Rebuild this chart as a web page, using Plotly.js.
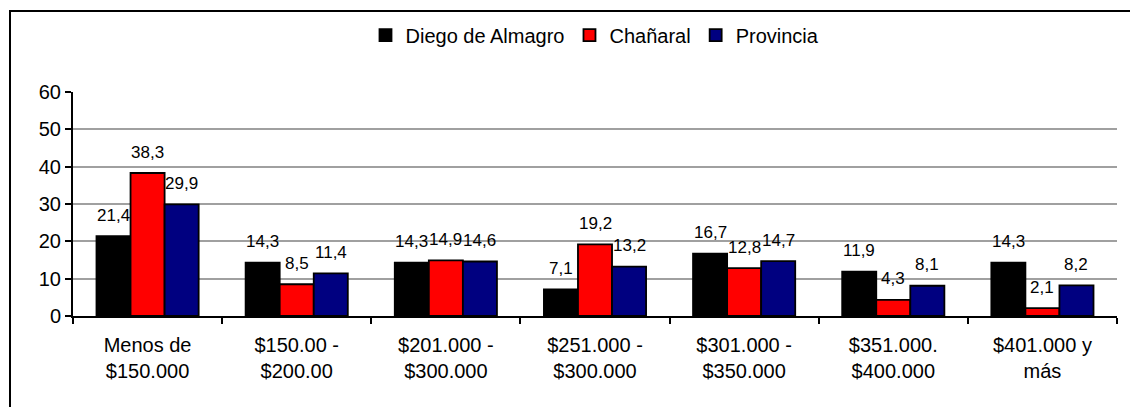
<!DOCTYPE html>
<html>
<head>
<meta charset="utf-8">
<script src="https://cdn.plot.ly/plotly-3.0.1.min.js"></script>
<style>
html,body{margin:0;padding:0;background:#fff;}
#wrap{position:relative;width:1130px;height:407px;overflow:hidden;}
#frame{position:absolute;left:9px;top:10px;width:1140px;height:420px;border:2px solid #000;box-sizing:border-box;pointer-events:none;z-index:5;}
#chart{position:absolute;left:0;top:0;width:1130px;height:407px;}
</style>
</head>
<body>
<div id="wrap">
<div id="chart"></div>
<div id="frame"></div>
</div>
<script>
const categories = ["Menos de<br>$150.000", "$150.00 -<br>$200.00", "$201.000 -<br>$300.000", "$251.000 -<br>$300.000", "$301.000 -<br>$350.000", "$351.000.<br>$400.000", "$401.000 y<br>más"];
const diegoDeAlmagro = [21.4, 14.3, 14.3, 7.1, 16.7, 11.9, 14.3];
const chanaral = [38.3, 8.5, 14.9, 19.2, 12.8, 4.3, 2.1];
const provincia = [29.9, 11.4, 14.6, 13.2, 14.7, 8.1, 8.2];
const seriesNames = ["Diego de Almagro", "Chañaral", "Provincia"];
const seriesColors = ["#000000", "#FF0000", "#000080"];

const fmt = v => v.toFixed(1).replace('.', ',');
const fam = "Arial, 'Liberation Sans', sans-serif";
const font = {family: fam, size: 20, color: "#000"};
const labelFont = {family: fam, size: 17, color: "#000"};

const allSeries = [diegoDeAlmagro, chanaral, provincia];
const traces = allSeries.map((vals, i) => ({
  type: 'bar',
  name: seriesNames[i],
  x: categories,
  y: vals,
  marker: {color: seriesColors[i], line: {color: '#000', width: 1.8}},
  hoverinfo: 'skip'
}));

// geometry for label placement
const plotW = 1130 - 73 - 13;
const bargap = 0.315;
const barW = plotW / categories.length * (1 - bargap) / allSeries.length;

const annotations = [];
allSeries.forEach((vals, i) => {
  vals.forEach((v, j) => {
    annotations.push({
      x: categories[j], y: v, xref: 'x', yref: 'y',
      text: fmt(v), showarrow: false,
      xshift: (i - 1) * barW, yshift: 21,
      xanchor: 'center', yanchor: 'middle',
      borderpad: 0,
      font: labelFont
    });
  });
});

const layout = {
  width: 1130, height: 407,
  margin: {l: 73, r: 13, t: 92, b: 91},
  paper_bgcolor: '#fff', plot_bgcolor: '#fff',
  font: font,
  barmode: 'group',
  bargap: bargap,
  bargroupgap: 0,
  showlegend: true,
  legend: {orientation: 'h', x: 0.5, xanchor: 'center', y: 1.254, yanchor: 'middle', font: font, tracegroupgap: 0},
  annotations: annotations,
  xaxis: {
    type: 'category',
    showline: true, linecolor: '#000', linewidth: 2,
    ticks: 'outside', tickson: 'boundaries', ticklen: 6, tickwidth: 2, tickcolor: '#000',
    ticklabelstandoff: 10,
    showgrid: false, tickfont: font, automargin: false
  },
  yaxis: {
    range: [0, 60], dtick: 10, tick0: 0,
    showline: true, linecolor: '#000', linewidth: 2,
    ticks: 'outside', ticklen: 6, tickwidth: 2, tickcolor: '#000',
    showgrid: true, gridcolor: '#A0A0A0', gridwidth: 2,
    zeroline: false, tickfont: font, automargin: false, fixedrange: true
  }
};

Plotly.newPlot('chart', traces, layout, {staticPlot: true, displayModeBar: false});
</script>
</body>
</html>
